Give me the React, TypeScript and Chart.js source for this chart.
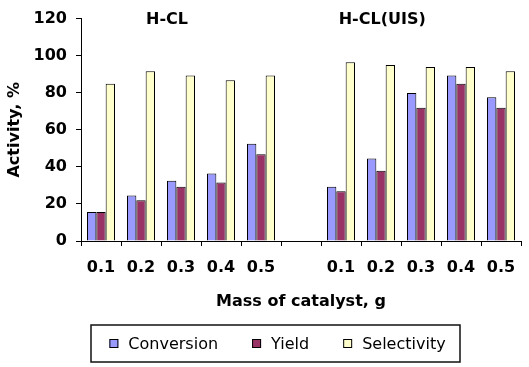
import React, { useEffect, useRef } from 'react';
import { Chart, registerables } from 'chart.js';

Chart.register(...registerables);

const categories = ['0.1', '0.2', '0.3', '0.4', '0.5', '', '0.1', '0.2', '0.3', '0.4', '0.5'];
const conversion = [15.7, 24.5, 32.5, 36.4, 52.5, null, 29.3, 44.5, 79.9, 89.3, 77.6];
const yieldValues = [15.7, 22.0, 29.3, 31.6, 46.8, null, 26.8, 37.9, 71.9, 84.8, 71.9];
const selectivity = [84.8, 91.6, 89.3, 86.8, 89.3, null, 96.4, 95.0, 93.9, 93.9, 91.6];
const seriesNames = ['Conversion', 'Yield', 'Selectivity'];
const seriesColors = ['#9999FF', '#993366', '#FFFFCC'];
const groupTitles = ['H-CL', 'H-CL(UIS)'];
const yMin = 0;
const yMax = 120;
const yStep = 20;
const xTitle = 'Mass of catalyst, g';
const yTitle = 'Activity, %';

const FONT = '"DejaVu Sans", "Liberation Sans", Arial, sans-serif';

const groupTitlePlugin = {
  id: 'groupTitles',
  afterDraw(chart: any) {
    const { ctx, chartArea } = chart;
    const xs = chart.scales.x;
    const anchors = [1.65, 7.03];
    ctx.save();
    ctx.font = `bold 16px ${FONT}`;
    ctx.fillStyle = '#000';
    ctx.textAlign = 'center';
    ctx.textBaseline = 'middle';
    groupTitles.forEach((t, i) => {
      ctx.fillText(t, xs.getPixelForValue(anchors[i]), chartArea.top + 1);
    });
    ctx.restore();
  },
};

const boxedLegendPlugin = {
  id: 'boxedLegend',
  afterDraw(chart: any) {
    const { ctx, chartArea } = chart;
    const ds = chart.data.datasets;
    ctx.save();
    ctx.font = `16px ${FONT}`;
    const marker = 9;
    const markerGap = 10;
    const itemGap = 34;
    const widths = ds.map((d: any) => marker + markerGap + ctx.measureText(d.label).width);
    const total = widths.reduce((a: number, b: number) => a + b, 0) + itemGap * (ds.length - 1);
    const frameL = 91;
    const frameT = 325;
    const frameW = 369;
    const frameH = 37;
    const cy = frameT + frameH / 2;
    ctx.strokeStyle = '#111';
    ctx.lineWidth = 1.5;
    ctx.strokeRect(frameL, frameT, frameW, frameH);
    let x = frameL + frameW / 2 + 2 - total / 2;
    ds.forEach((d: any, i: number) => {
      ctx.fillStyle = d.backgroundColor;
      ctx.fillRect(x, cy - marker / 2, marker, marker);
      ctx.strokeStyle = '#000';
      ctx.lineWidth = 1;
      ctx.strokeRect(x + 0.5, cy - marker / 2 + 0.5, marker - 1, marker - 1);
      ctx.fillStyle = '#000';
      ctx.textAlign = 'left';
      ctx.textBaseline = 'middle';
      ctx.fillText(d.label, x + marker + markerGap, cy + 1);
      x += widths[i] + itemGap;
    });
    ctx.restore();
  },
};

export default function App() {
  const ref = useRef<HTMLCanvasElement | null>(null);

  useEffect(() => {
    if (!ref.current) return;
    const seriesData = [conversion, yieldValues, selectivity];
    const chart = new Chart(ref.current, {
      type: 'bar',
      data: {
        labels: categories,
        datasets: seriesNames.map((name, i) => ({
          label: name,
          data: seriesData[i],
          backgroundColor: seriesColors[i],
          borderColor: '#000',
          borderWidth: 1,
          categoryPercentage: 0.7,
          barPercentage: 1.0,
        })),
      },
      options: {
        responsive: false,
        animation: false,
        layout: { padding: { top: 17, right: 8, bottom: 56, left: 0 } },
        plugins: {
          legend: { display: false },
          tooltip: { enabled: false },
        },
        scales: {
          x: {
            ticks: {
              color: '#000',
              font: { family: FONT, weight: 'bold', size: 16 },
              padding: 12,
              autoSkip: false,
              maxRotation: 0,
            },
            grid: {
              offset: true,
              drawOnChartArea: false,
              drawTicks: true,
              tickLength: 5,
              color: '#000',
            },
            border: { color: '#000', width: 1 },
            title: {
              display: true,
              text: xTitle,
              color: '#000',
              font: { family: FONT, weight: 'bold', size: 16 },
              padding: { top: 4, bottom: 0 },
            },
            afterFit: (s: any) => {
              s.height = 70;
            },
          },
          y: {
            min: yMin,
            max: yMax,
            ticks: {
              stepSize: yStep,
              color: '#000',
              font: { family: FONT, weight: 'bold', size: 16 },
              padding: 9,
            },
            grid: {
              drawOnChartArea: false,
              drawTicks: true,
              tickLength: 5,
              color: '#000',
            },
            border: { color: '#000', width: 1 },
            title: {
              display: true,
              text: yTitle,
              color: '#000',
              font: { family: FONT, weight: 'bold', size: 16 },
              padding: { top: 5, bottom: 0 },
            },
            afterFit: (s: any) => {
              s.width = 81;
            },
          },
        },
      },
      plugins: [groupTitlePlugin, boxedLegendPlugin],
    });
    return () => chart.destroy();
  }, []);

  return (
    <div style={{ position: 'absolute', left: 0, top: 0, width: 529, height: 367, background: '#fff' }}>
      <canvas ref={ref} width={529} height={367} style={{ display: 'block' }} />
    </div>
  );
}
